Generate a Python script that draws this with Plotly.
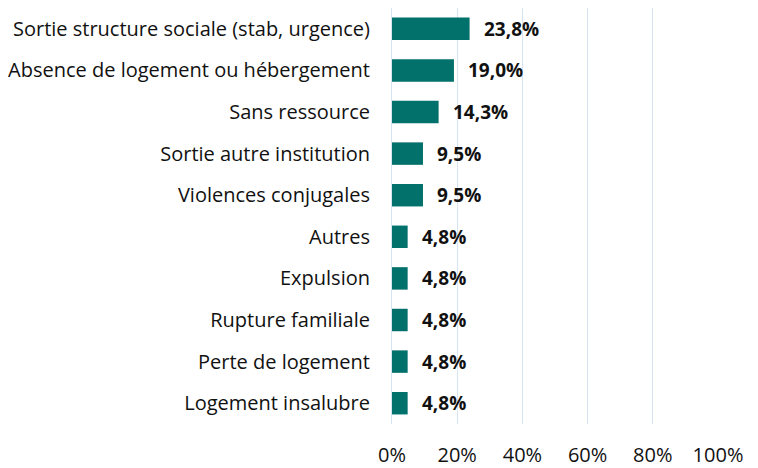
import plotly.graph_objects as go

categories = [
    "Sortie structure sociale (stab, urgence)",
    "Absence de logement ou hébergement",
    "Sans ressource",
    "Sortie autre institution",
    "Violences conjugales",
    "Autres",
    "Expulsion",
    "Rupture familiale",
    "Perte de logement",
    "Logement insalubre",
]
values = [23.8, 19.0, 14.3, 9.5, 9.5, 4.8, 4.8, 4.8, 4.8, 4.8]
value_labels = ["23,8%", "19,0%", "14,3%", "9,5%", "9,5%", "4,8%", "4,8%", "4,8%", "4,8%", "4,8%"]
x_ticks = [0, 20, 40, 60, 80, 100]
x_tick_labels = ["0%", "20%", "40%", "60%", "80%", "100%"]

FONT = "Open Sans"
BAR = "#02706b"
TXT = "#111111"

fig = go.Figure()
fig.add_trace(go.Bar(
    y=categories,
    x=values,
    orientation="h",
    marker=dict(color=BAR, line=dict(width=0)),
    width=0.54,
    hoverinfo="skip",
))

for c, v, t in zip(categories, values, value_labels):
    fig.add_annotation(
        x=v, y=c, text=f"<b>{t}</b>", showarrow=False,
        xanchor="left", yanchor="middle", xshift=12,
        font=dict(family=FONT, size=19, color=TXT),
    )

fig.update_layout(
    width=750, height=460,
    margin=dict(l=383, r=40, t=0, b=38),
    paper_bgcolor="white",
    plot_bgcolor="white",
    showlegend=False,
    font=dict(family=FONT, size=20, color=TXT),
)
fig.update_xaxes(
    range=[0, 100],
    tickvals=x_ticks,
    ticktext=x_tick_labels,
    showgrid=True,
    gridcolor="#d6e4f3",
    gridwidth=1,
    zeroline=False,
    showline=False,
    ticks="",
    ticklabelstandoff=17,
    tickfont=dict(family=FONT, size=20, color=TXT),
)
fig.update_yaxes(
    categoryorder="array",
    categoryarray=categories[::-1],
    range=[-0.5, 9.5],
    showgrid=False,
    zeroline=False,
    showline=True,
    linecolor="#d6e4f3",
    linewidth=1,
    ticks="",
    ticklabelstandoff=17,
    tickfont=dict(family=FONT, size=20, color=TXT),
)

fig.write_html("out.html")
